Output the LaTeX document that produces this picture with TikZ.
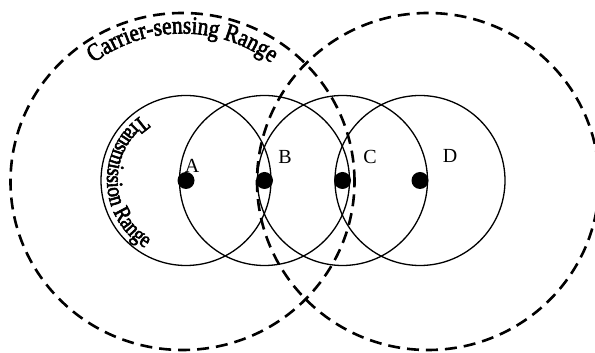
\documentclass[tikz,border=0pt]{standalone}
\usepackage{fontspec}
\setmainfont{Liberation Serif}
\newfontfamily\curvefont[FakeStretch=0.85, FakeBold=2.5]{Liberation Serif}
\newfontfamily\curvefontb[FakeStretch=0.84, FakeBold=2.5]{Liberation Serif}
\usetikzlibrary{decorations.text}
\tikzset{
  txrange/.style={line width=1.3pt},
  csrange/.style={line width=2.6pt, dash pattern=on 12pt off 7pt},
  dot/.style={circle, fill=black, inner sep=0pt, minimum size=17pt},
  lbl/.style={inner sep=0pt, font=\fontsize{20}{20}\selectfont},
}
\begin{document}
\begin{tikzpicture}[x=1pt,y=1pt]
\useasboundingbox (0,0) rectangle (595,353);
\clip (0,0) rectangle (595,353);
% centres
\coordinate (csL) at (182.5,171.5);
\coordinate (csR) at (428,171.5);
\node[dot] (A) at (186,172.5) {};
\node[dot] (B) at (264.5,172.5) {};
\node[dot] (C) at (342.5,172.5) {};
\node[dot] (D) at (420,172.5) {};
% transmission ranges
\draw[txrange] (A.center) circle[radius=85];
\draw[txrange] (B.center) circle[radius=85];
\draw[txrange] (C.center) circle[radius=85];
\draw[txrange] (D.center) circle[radius=85];
% carrier-sensing ranges
\draw[csrange] (csL) ellipse[x radius=172, y radius=168.5];
\draw[csrange] (csR) ellipse[x radius=171, y radius=168.5];
% labels
\node[lbl] (lA) at (192,187) {A};
\node[lbl] (lB) at (285,196) {B};
\node[lbl] (lC) at (370,196) {C};
\node[lbl] (lD) at (450,197) {D};
% curved texts
\path[decorate, decoration={text along path, text align=center,
  text format delimiters={|}{|},
  text={|\curvefont\fontsize{25}{25}\selectfont|Carrier-sensing Range}}]
  ([shift={(140:148)}]csL) arc[start angle=140, end angle=40, radius=148];
\path[decorate, decoration={text along path, text align=center,
  text format delimiters={|}{|},
  text={|\curvefontb\fontsize{23}{23}\selectfont|Transmission Range}}]
  ([shift={(111:79)}]A.center) arc[start angle=111, end angle=252, radius=79];
\end{tikzpicture}
\end{document}
